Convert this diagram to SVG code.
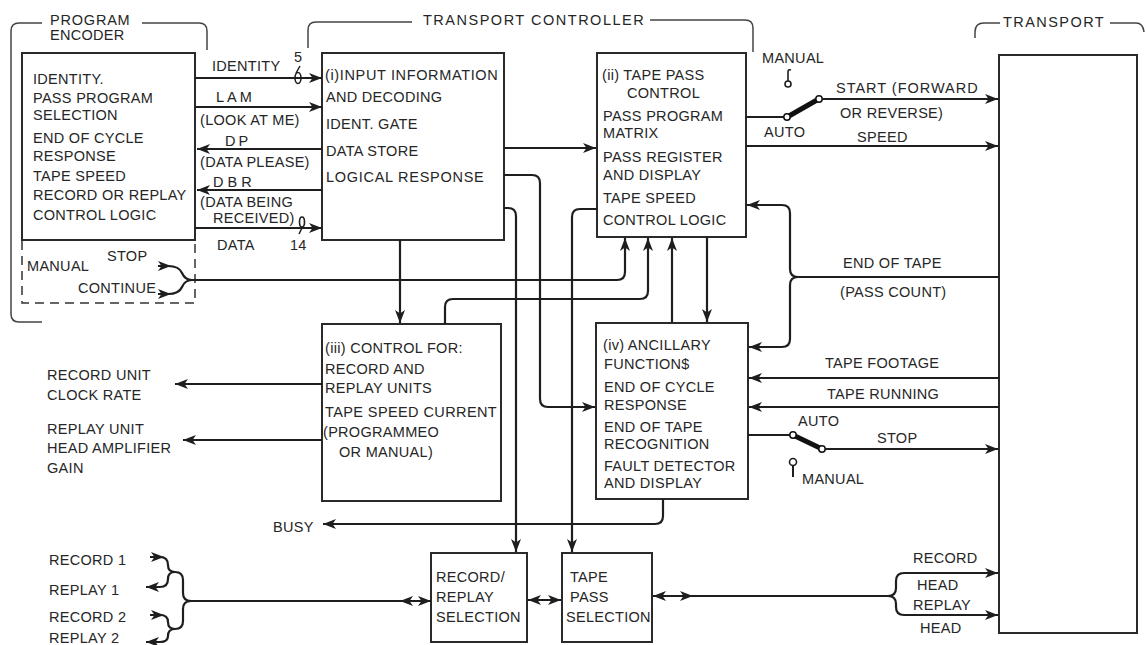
<svg xmlns="http://www.w3.org/2000/svg" xmlns:xlink="http://www.w3.org/1999/xlink" width="1146" height="645" viewBox="0 0 1146 645">
<defs>
<style>
text{font-family:"Liberation Sans",Arial,sans-serif;font-size:14.5px;fill:#262626;letter-spacing:0.3px}
.box{fill:#fff;stroke:#2a2a2a;stroke-width:2}
.dash{fill:none;stroke:#333;stroke-width:1.5;stroke-dasharray:9,6}
.brk{fill:none;stroke:#444;stroke-width:1.5}
.w{fill:none;stroke:#1e1e1e;stroke-width:2.2}
.a{marker-end:url(#ah)}
.b{marker-start:url(#ah)}
.lever{stroke:#111;stroke-width:5;stroke-linecap:round}
.ct{fill:#fff;stroke:#111;stroke-width:1.5}
.hd{fill:#1e1e1e}
</style>
<marker id="ah" markerUnits="userSpaceOnUse" markerWidth="14" markerHeight="10" refX="13" refY="5" orient="auto-start-reverse">
<path d="M0,0 L13,5 L0,10 L3.5,5 z" fill="#1e1e1e"/>
</marker>
<path id="hR" d="M0,0 L-13,-5 L-9.5,0 L-13,5 z"/>
</defs>

<g id="brackets">
<path class="brk" d="M42,23 H19 Q11,23 11,31 V314 Q11,322 19,322 H42"/>
<path class="brk" d="M142,23 H199 Q207,23 207,31 V50"/>
<text x="50" y="25" textLength="80" lengthAdjust="spacing">PROGRAM</text>
<text x="50" y="40">ENCODER</text>
<path class="brk" d="M308,48 V30 Q308,22 316,22 H412"/>
<text x="423" y="25" textLength="221" lengthAdjust="spacing">TRANSPORT  CONTROLLER</text>
<path class="brk" d="M650,20 H745 Q753,20 753,28 V52"/>
<path class="brk" d="M975,38 V32 Q975,23 984,23 H1000"/>
<text x="1003" y="27" textLength="101" lengthAdjust="spacing">TRANSPORT</text>
<path class="brk" d="M1110,23 H1136 Q1143,23 1144,32"/>
</g>

<g id="encoder">
<rect class="box" x="22" y="53" width="173" height="187"/>
<path class="dash" d="M22,241 V303 H195 V241"/>
<text x="33" y="84">IDENTITY.</text>
<text x="33" y="103">PASS PROGRAM</text>
<text x="33" y="120">SELECTION</text>
<text x="33" y="143">END OF CYCLE</text>
<text x="33" y="161">RESPONSE</text>
<text x="33" y="181">TAPE SPEED</text>
<text x="33" y="200">RECORD OR REPLAY</text>
<text x="33" y="220">CONTROL LOGIC</text>
<text x="107" y="261">STOP</text>
<text x="27" y="271">MANUAL</text>
<text x="78" y="293">CONTINUE</text>
</g>

<g id="input">
<rect class="box" x="322" y="53" width="182" height="187"/>
<text x="325" y="80" textLength="173" lengthAdjust="spacing">(i)INPUT INFORMATION</text>
<text x="326" y="102">AND DECODING</text>
<text x="326" y="129">IDENT. GATE</text>
<text x="326" y="156">DATA STORE</text>
<text x="326" y="182" textLength="158" lengthAdjust="spacing">LOGICAL RESPONSE</text>
</g>

<g id="tapepass">
<rect class="box" x="597" y="53" width="149" height="184"/>
<text x="602" y="80">(ii) TAPE PASS</text>
<text x="627" y="98">CONTROL</text>
<text x="603" y="121">PASS PROGRAM</text>
<text x="603" y="138">MATRIX</text>
<text x="603" y="162">PASS REGISTER</text>
<text x="603" y="180">AND DISPLAY</text>
<text x="603" y="203">TAPE SPEED</text>
<text x="603" y="225">CONTROL LOGIC</text>
</g>

<g id="control">
<rect class="box" x="322" y="324" width="179" height="177"/>
<text x="325" y="353">(iii) CONTROL FOR:</text>
<text x="325" y="374">RECORD AND</text>
<text x="325" y="393">REPLAY UNITS</text>
<text x="325" y="417" textLength="172" lengthAdjust="spacing">TAPE SPEED CURRENT</text>
<text x="323" y="437">(PROGRAMMEO</text>
<text x="339" y="457">OR MANUAL)</text>
</g>

<g id="ancillary">
<rect class="box" x="596" y="323" width="152" height="176"/>
<text x="603" y="350">(iv) ANCILLARY</text>
<text x="604" y="369">FUNCTION$</text>
<text x="604" y="392">END OF CYCLE</text>
<text x="604" y="410">RESPONSE</text>
<text x="604" y="432">END OF TAPE</text>
<text x="604" y="449">RECOGNITION</text>
<text x="604" y="471">FAULT DETECTOR</text>
<text x="604" y="488">AND DISPLAY</text>
</g>

<g id="recreplay">
<rect class="box" x="431" y="553" width="96" height="89"/>
<text x="436" y="582">RECORD/</text>
<text x="436" y="602">REPLAY</text>
<text x="436" y="622">SELECTION</text>
</g>

<g id="passsel">
<rect class="box" x="562" y="553" width="90" height="89"/>
<text x="570" y="582">TAPE</text>
<text x="570" y="602">PASS</text>
<text x="566" y="622">SELECTION</text>
</g>

<g id="transport">
<rect class="box" x="999" y="55" width="138" height="578"/>
</g>

<g id="connectors">
<path class="w a" d="M195,78 H322"/>
<path class="w a" d="M195,107 H322"/>
<path class="w a" d="M322,149 H197"/>
<path class="w a" d="M322,190 H197"/>
<path class="w a" d="M195,228 H322"/>
<ellipse cx="298" cy="78" rx="3" ry="5.5" fill="none" stroke="#1e1e1e" stroke-width="1.6"/>
<path d="M300,66 L296,73" stroke="#1e1e1e" stroke-width="1.5"/>
<ellipse cx="302" cy="222" rx="2.5" ry="5" fill="none" stroke="#1e1e1e" stroke-width="1.6"/>
<path d="M302,228 L299,234" stroke="#1e1e1e" stroke-width="1.5"/>
<text x="212" y="71">IDENTITY</text>
<text x="294" y="62">5</text>
<text x="216" y="102" style="letter-spacing:3px">LAM</text>
<text x="200" y="125">(LOOK AT ME)</text>
<text x="225" y="146" style="letter-spacing:3px">DP</text>
<text x="200" y="167">(DATA PLEASE)</text>
<text x="213" y="187" style="letter-spacing:4px">DBR</text>
<text x="200" y="207">(DATA BEING</text>
<text x="213" y="223">RECEIVED)</text>
<text x="217" y="250">DATA</text>
<text x="290" y="250">14</text>

<path class="w" d="M158,266 H168 Q179,266 182,273 Q185,280 192,280 M158,294 H168 Q179,294 182,287 Q185,280 192,280"/>
<use xlink:href="#hR" class="hd" transform="translate(171,266)"/>
<use xlink:href="#hR" class="hd" transform="translate(171,294)"/>
<path class="w a" d="M192,280 H617 Q625,280 625,272 V238"/>

<path class="w a" d="M445,324 V307 Q445,299 453,299 H640 Q648,299 648,291 V238"/>
<path class="w a" d="M672,323 V238"/>
<path class="w a" d="M707,237 V322"/>
<path class="w a" d="M504,148 H596"/>
<path class="w a" d="M400,240 V323"/>
<path class="w a" d="M504,175 H532 Q540,175 540,183 V399 Q540,407 548,407 H595"/>
<path class="w a" d="M504,208 H508 Q516,208 516,216 V552"/>
<path class="w a" d="M597,209 H580 Q572,209 572,217 V552"/>
<path class="w a" d="M663,499 V516 Q663,524 655,524 H323"/>
<text x="273" y="532">BUSY</text>
<path class="w a" d="M322,384 H175"/>
<path class="w a" d="M322,440 H183"/>
<text x="47" y="380">RECORD UNIT</text>
<text x="47" y="400">CLOCK RATE</text>
<text x="47" y="434">REPLAY UNIT</text>
<text x="47" y="453">HEAD AMPLIFIER</text>
<text x="47" y="473">GAIN</text>

<path class="w" d="M150,557 H160 Q168,557 168,565 Q168,572 175,572 M146,587 H160 Q168,587 168,579 Q168,572 175,572"/>
<path class="w" d="M150,615 H160 Q168,615 168,622 Q168,629 175,629 M146,642 H160 Q168,642 168,636 Q168,629 175,629"/>
<path class="w" d="M175,572 Q183,572 183,580 V593 Q183,601 191,601 M175,629 Q183,629 183,621 V609 Q183,601 191,601"/>
<use xlink:href="#hR" class="hd" transform="translate(164,557)"/>
<use xlink:href="#hR" class="hd" transform="translate(146,587) rotate(180)"/>
<use xlink:href="#hR" class="hd" transform="translate(164,615)"/>
<use xlink:href="#hR" class="hd" transform="translate(146,642) rotate(180)"/>
<path class="w a" d="M191,601 H431"/>
<use xlink:href="#hR" class="hd" transform="translate(400,601) rotate(180)"/>
<text x="49" y="565">RECORD 1</text>
<text x="49" y="595">REPLAY 1</text>
<text x="49" y="622">RECORD 2</text>
<text x="49" y="643">REPLAY 2</text>

<path class="w a b" d="M528,600 H561"/>
<path class="w b" d="M653,596 H888"/>
<use xlink:href="#hR" class="hd" transform="translate(693,596)"/>
<path class="w a" d="M888,596 Q896,596 896,588 V581 Q896,573 904,573 H998"/>
<path class="w a" d="M888,596 Q896,596 896,604 V607 Q896,615 904,615 H998"/>
<text x="913" y="563">RECORD</text>
<text x="917" y="590">HEAD</text>
<text x="913" y="610">REPLAY</text>
<text x="920" y="633">HEAD</text>

<path class="w" d="M746,117 H784"/>
<line class="lever" x1="789" y1="116" x2="817" y2="100"/>
<circle class="ct" cx="787" cy="117" r="3.2"/>
<circle class="ct" cx="819" cy="99" r="3.2"/>
<path class="w a" d="M822,99 H998"/>
<circle cx="788" cy="84" r="3" fill="none" stroke="#1e1e1e" stroke-width="1.6"/>
<path d="M788,81 V72 Q788,69 791,70" fill="none" stroke="#1e1e1e" stroke-width="1.6"/>
<text x="762" y="63">MANUAL</text>
<text x="836" y="93" textLength="142" lengthAdjust="spacing">START (FORWARD</text>
<text x="840" y="118">OR REVERSE)</text>
<text x="764" y="137">AUTO</text>
<path class="w a" d="M746,146 H998"/>
<text x="857" y="142">SPEED</text>

<path class="w a" d="M999,277 H798 Q790,277 790,269 V213 Q790,205 782,205 H747"/>
<path class="w a" d="M798,277 Q790,277 790,285 V339 Q790,347 782,347 H749"/>
<text x="843" y="268">END OF TAPE</text>
<text x="840" y="297">(PASS COUNT)</text>
<path class="w a" d="M999,378 H749"/>
<path class="w a" d="M999,407 H749"/>
<text x="825" y="368">TAPE FOOTAGE</text>
<text x="827" y="399">TAPE RUNNING</text>

<path class="w" d="M748,435 H790"/>
<line class="lever" x1="795" y1="436" x2="820" y2="448"/>
<circle class="ct" cx="793" cy="435" r="3.2"/>
<circle class="ct" cx="822" cy="449" r="3.2"/>
<path class="w a" d="M825,449 H998"/>
<circle cx="793" cy="462" r="3.5" fill="none" stroke="#1e1e1e" stroke-width="1.6"/>
<path d="M793,466 V477" stroke="#1e1e1e" stroke-width="2"/>
<text x="798" y="426">AUTO</text>
<text x="877" y="443">STOP</text>
<text x="802" y="484">MANUAL</text>
</g>
</svg>
